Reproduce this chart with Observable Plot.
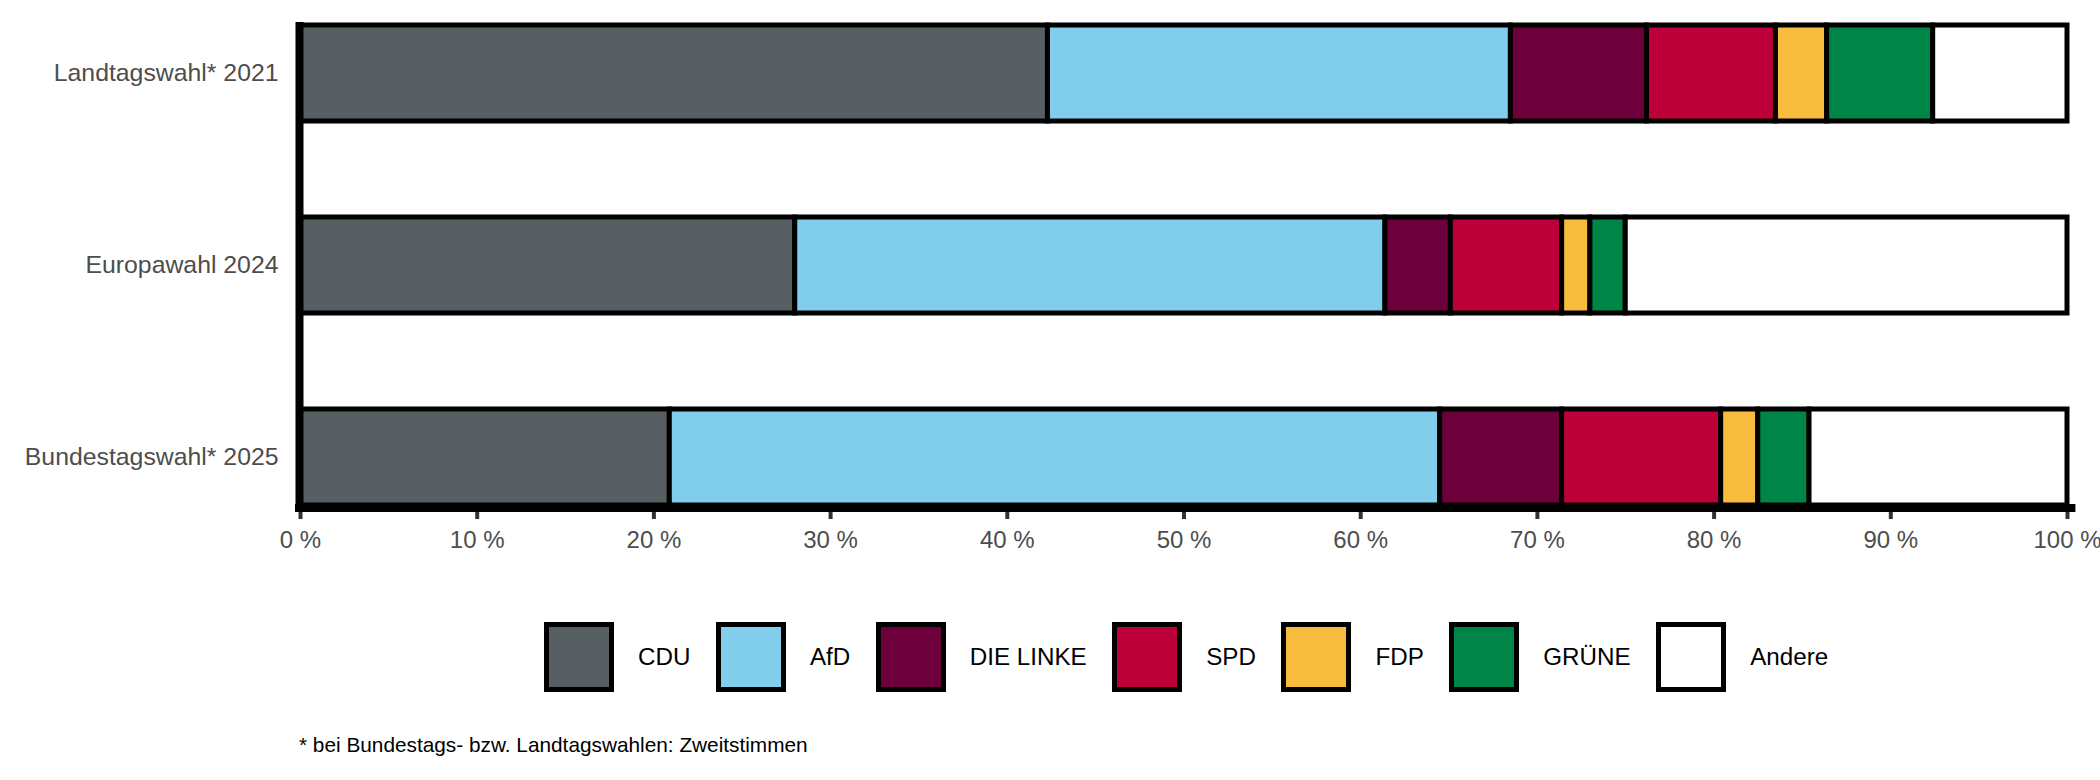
<!DOCTYPE html>
<html>
<head>
<meta charset="utf-8">
<script src="https://cdn.jsdelivr.net/npm/d3@7"></script>
<script src="https://cdn.jsdelivr.net/npm/@observablehq/plot@0.6"></script>
<style>
  html, body { margin: 0; padding: 0; background: #ffffff; }
  body { position: relative; width: 2100px; height: 780px; overflow: hidden;
         font-family: "Liberation Sans", Arial, Helvetica, sans-serif; }
  #chart svg { display: block; }
  #legend { position: absolute; left: 544px; top: 622px; height: 70px;
            display: flex; align-items: center; font-size: 24.2px; color: #000; }
  #legend .key { width: 60px; height: 60px; border: 5px solid #000; box-sizing: content-box; flex: none; }
  #legend .lab { margin-left: 24px; margin-right: 25.5px; white-space: nowrap; }
  #note { position: absolute; left: 299px; top: 734px; font-size: 20.8px; line-height: 22px; color: #000; white-space: nowrap; }
</style>
</head>
<body>
<div id="chart"></div>
<div id="legend"></div>
<div id="note">* bei Bundestags- bzw. Landtagswahlen: Zweitstimmen</div>
<script>
const elections = ["Landtagswahl* 2021", "Europawahl 2024", "Bundestagswahl* 2025"];
const parties = ["CDU", "AfD", "DIE LINKE", "SPD", "FDP", "GRÜNE", "Andere"];
const partyColors = ["#575f62", "#80cdec", "#6d003a", "#be003a", "#f7bb3d", "#008549", "#ffffff"];
const share2021 = [42.3, 26.2, 7.7, 7.3, 2.9, 6.0, 7.6];
const share2024 = [28.0, 33.4, 3.7, 6.3, 1.6, 2.0, 25.0];
const share2025 = [20.9, 43.6, 6.9, 9.0, 2.1, 2.9, 14.6];
const xTicks = [0, 10, 20, 30, 40, 50, 60, 70, 80, 90, 100];

const shares = [share2021, share2024, share2025];
const data = elections.flatMap((election, i) =>
  parties.map((party, j) => ({election, party, share: shares[i][j]}))
);

const tickFormat = d => `${d} %`;

// bottom axis line (panel bottom), drawn from the scales and frame dimensions
function xAxisLine(index, scales, values, dimensions) {
  const {height, marginBottom} = dimensions;
  const y = height - marginBottom;
  const x0 = scales.x(0) - 1;
  const x1 = scales.x(100.25);
  return d3.create("svg:line")
    .attr("x1", x0).attr("x2", x1)
    .attr("y1", y).attr("y2", y)
    .attr("stroke", "#000")
    .attr("stroke-width", 8)
    .attr("stroke-linecap", "square")
    .node();
}

const chart = Plot.plot({
  width: 2100,
  height: 575,
  marginLeft: 300,
  marginRight: 33,
  marginTop: 22,
  marginBottom: 67,
  style: {fontFamily: '"Liberation Sans", Arial, Helvetica, sans-serif', fontSize: "24px", background: "#ffffff", color: "#000"},
  x: {domain: [0, 100], ticks: xTicks, tickFormat, label: null},
  y: {domain: elections, paddingInner: 0.5, paddingOuter: 0, insetTop: 2, insetBottom: 2, label: null},
  color: {domain: parties, range: partyColors},
  marks: [
    Plot.barX(data, {x: "share", y: "election", fill: "party", stroke: "#000", strokeWidth: 5}),
    Plot.axisX({ticks: xTicks, tickFormat, tickSize: 11, tickPadding: 11, stroke: "#333333", strokeWidth: 4,
                fill: "#4d4d4d", fontSize: 24, label: null}),
    Plot.axisY({tickSize: 0, tickPadding: 22, fill: "#4d4d4d", fontSize: 24.8, label: null}),
    Plot.ruleX([0], {stroke: "#000", strokeWidth: 8, dx: -1}),
    xAxisLine
  ]
});
document.getElementById("chart").appendChild(chart);

// legend built from the same party/color arrays
const legend = document.getElementById("legend");
parties.forEach((p, i) => {
  const key = document.createElement("span");
  key.className = "key";
  key.style.background = partyColors[i];
  const lab = document.createElement("span");
  lab.className = "lab";
  lab.textContent = p;
  legend.appendChild(key);
  legend.appendChild(lab);
});
</script>
</body>
</html>
